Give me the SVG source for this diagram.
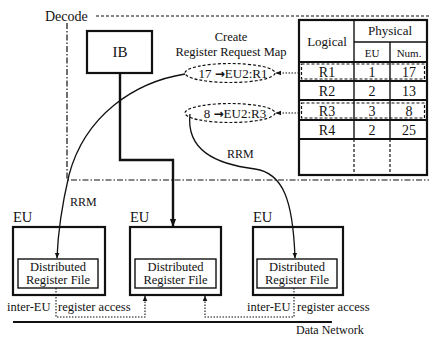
<svg xmlns="http://www.w3.org/2000/svg" width="429" height="337" viewBox="0 0 429 337">
  <defs>
    <style>
      text { font-family: "Liberation Serif", "Times New Roman", serif; fill: #111; }
      .arrow { font-family: "DejaVu Sans", sans-serif; font-weight: bold; }
      .box { fill: none; stroke: #111; stroke-width: 2.2; }
      .thin { fill: none; stroke: #111; stroke-width: 1.4; }
      .dash { fill: none; stroke: #111; stroke-width: 1.2; stroke-dasharray: 3 2; }
      .dot { fill: none; stroke: #111; stroke-width: 1.1; stroke-dasharray: 1.5 1.5; }
      .curve { fill: none; stroke: #111; stroke-width: 1.3; }
      .c { text-anchor: middle; }
      .drf { font-size: 12.5px; text-anchor: middle; }
    </style>
    <marker id="ah" viewBox="0 0 10 10" refX="9" refY="5" markerWidth="6" markerHeight="6" orient="auto-start-reverse" markerUnits="userSpaceOnUse">
      <path d="M0,1 L10,5 L0,9 Z" fill="#111"/>
    </marker>
    <marker id="ahBig" viewBox="0 0 10 10" refX="9" refY="5" markerWidth="8" markerHeight="8" orient="auto" markerUnits="userSpaceOnUse">
      <path d="M0,1 L10,5 L0,9 Z" fill="#111"/>
    </marker>
  </defs>

  <!-- Decode region -->
  <g id="decode">
    <text x="45" y="21" font-size="14">Decode</text>
    <line x1="96" y1="16" x2="429" y2="16" stroke="#111" stroke-width="1.2" stroke-dasharray="3 2"/>
    <polyline points="67,23 67,180 429,180" fill="none" stroke="#111" stroke-width="1.2" stroke-dasharray="6 2 1.5 2"/>
  </g>

  <!-- Instruction buffer -->
  <g id="ib">
    <rect class="box" x="87" y="31" width="65" height="42"/>
    <text class="c" x="120" y="57" font-size="15">IB</text>
  </g>

  <!-- Register request map -->
  <g id="rrm-title">
    <text class="c" x="231" y="41" font-size="12.5">Create</text>
    <text class="c" x="231" y="56" font-size="12.5">Register Request Map</text>
  </g>
  <g id="map-r1">
    <ellipse class="dash" cx="230" cy="73" rx="45" ry="9.5"/>
    <text class="c" x="233" y="78" font-size="13">17 <tspan class="arrow" font-size="12">→</tspan>EU2:R1</text>
  </g>
  <g id="map-r3">
    <ellipse class="dash" cx="230" cy="113" rx="45" ry="9.5"/>
    <text class="c" x="235" y="118" font-size="13">8 <tspan class="arrow" font-size="12">→</tspan>EU2:R3</text>
  </g>

  <!-- Register mapping table -->
  <g id="table">
    <rect class="box" x="299" y="20" width="128" height="155"/>
    <line class="thin" x1="354" y1="20" x2="354" y2="139"/>
    <line class="thin" x1="354" y1="42" x2="427" y2="42"/>
    <line class="thin" x1="390" y1="42" x2="390" y2="139"/>
    <line class="dash" x1="354" y1="139" x2="354" y2="175"/>
    <line class="dash" x1="390" y1="139" x2="390" y2="175"/>
    <line class="box" x1="299" y1="62" x2="427" y2="62"/>
    <line class="box" x1="299" y1="81" x2="427" y2="81"/>
    <line class="box" x1="299" y1="100" x2="427" y2="100"/>
    <line class="box" x1="299" y1="120" x2="427" y2="120"/>
    <line class="box" x1="299" y1="139" x2="427" y2="139"/>
    <rect class="dash" x="301.5" y="64" width="123" height="15"/>
    <rect class="dash" x="301.5" y="103" width="123" height="15"/>
    <text class="c" x="327" y="46" font-size="13">Logical</text>
    <text class="c" x="390" y="35" font-size="13">Physical</text>
    <text class="c" x="372" y="57" font-size="11">EU</text>
    <text class="c" x="409" y="57" font-size="11">Num.</text>
    <text class="c" x="327" y="77" font-size="14">R1</text>
    <text class="c" x="372" y="77" font-size="14">1</text>
    <text class="c" x="409" y="77" font-size="14">17</text>
    <text class="c" x="327" y="96" font-size="14">R2</text>
    <text class="c" x="372" y="96" font-size="14">2</text>
    <text class="c" x="409" y="96" font-size="14">13</text>
    <text class="c" x="327" y="116" font-size="14">R3</text>
    <text class="c" x="372" y="116" font-size="14">3</text>
    <text class="c" x="409" y="116" font-size="14">8</text>
    <text class="c" x="327" y="135" font-size="14">R4</text>
    <text class="c" x="372" y="135" font-size="14">2</text>
    <text class="c" x="409" y="135" font-size="14">25</text>
  </g>

  <!-- Execution units -->
  <g id="eu1">
    <text x="13" y="222" font-size="14.5">EU</text>
    <rect class="box" x="13" y="227" width="92" height="68"/>
    <rect class="thin" x="18" y="259" width="80" height="29"/>
    <text class="drf" x="58" y="271">Distributed</text>
    <text class="drf" x="58" y="284">Register File</text>
  </g>
  <g id="eu2">
    <text x="130" y="222" font-size="14.5">EU</text>
    <rect class="box" x="130" y="227" width="91" height="68"/>
    <rect class="thin" x="135" y="259" width="81" height="29"/>
    <text class="drf" x="175.5" y="271">Distributed</text>
    <text class="drf" x="175.5" y="284">Register File</text>
  </g>
  <g id="eu3">
    <text x="253" y="222" font-size="14.5">EU</text>
    <rect class="box" x="253" y="227" width="90" height="68"/>
    <rect class="thin" x="257" y="259" width="80" height="29"/>
    <text class="drf" x="297" y="271">Distributed</text>
    <text class="drf" x="297" y="284">Register File</text>
  </g>

  <!-- Data network -->
  <g id="network">
    <line x1="13" y1="322" x2="332" y2="322" stroke="#111" stroke-width="2.2"/>
    <text x="296" y="334" font-size="12">Data Network</text>
  </g>

  <!-- Connectors -->
  <g id="connectors">
    <!-- IB issue path to the second EU -->
    <polyline points="120,73 120,160 173,160 173,226" fill="none" stroke="#111" stroke-width="2.4" marker-end="url(#ahBig)"/>
    <!-- table rows to the request map -->
    <line class="dot" x1="299" y1="73" x2="276" y2="73" marker-end="url(#ah)"/>
    <line class="dot" x1="299" y1="113" x2="276" y2="113" marker-end="url(#ah)"/>
    <!-- register request map sends -->
    <path class="curve" d="M185,74 C135,82 85,115 69,175 C62,205 58,230 57,258" marker-end="url(#ah)"/>
    <path class="curve" d="M190,114 C186,150 215,164 255,169 C283,173 293,200 295,258" marker-end="url(#ah)"/>
    <text x="70" y="206" font-size="12">RRM</text>
    <text x="227" y="158" font-size="12">RRM</text>
    <!-- inter-EU register access -->
    <polyline class="dot" points="56,288 56,317 145,317 145,296" marker-end="url(#ah)"/>
    <polyline class="dot" points="294,288 294,317 205,317 205,296" marker-end="url(#ah)"/>
    <text x="7" y="311" font-size="12.5">inter-EU</text>
    <text x="58" y="311" font-size="12.5">register access</text>
    <text x="247" y="311" font-size="12.5">inter-EU</text>
    <text x="297" y="311" font-size="12.5">register access</text>
  </g>
</svg>
